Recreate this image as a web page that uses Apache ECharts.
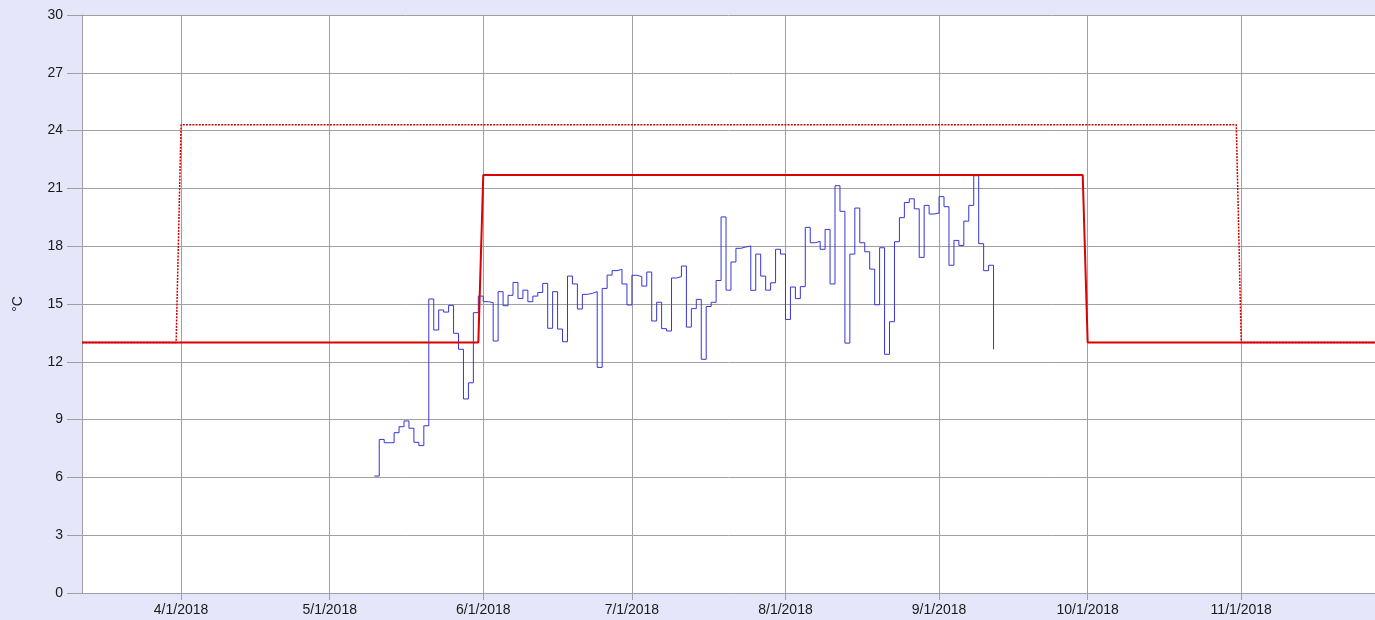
<!DOCTYPE html>
<html>
<head>
<meta charset="utf-8">
<script src="https://cdn.jsdelivr.net/npm/echarts@6/dist/echarts.min.js"></script>
<style>
  html, body { margin: 0; padding: 0; background: #e6e6fa; }
  #chart { width: 1375px; height: 620px; }
</style>
</head>
<body>
<div id="chart"></div>
<script>
// Visible time window of the x axis
const axisStart = '2018-03-12';
const axisEnd = '2018-11-28';

// Daily measured temperature (°C), one value per day starting at measuredStart
const measuredStart = [2018, 4, 10]; // year, month index, day -> May 10, 2018
const measuredTemps = [
  6.07, 7.97, 7.8, 7.8, 8.32, 8.63, 8.93, 8.55, 7.82, 7.65,
  8.68, 15.26, 13.65, 14.69, 14.58, 14.93, 13.48, 12.65, 10.07, 10.91,
  14.55, 15.41, 15.12, 15.07, 13.08, 15.64, 14.91, 15.45, 16.12, 15.29,
  15.72, 15.12, 15.41, 15.6, 16.07, 13.74, 15.64, 13.7, 13.04, 16.45,
  16.04, 14.74, 15.5, 15.55, 15.64, 11.71, 15.81, 16.5, 16.73, 16.8,
  16.04, 14.95, 16.49, 16.42, 15.93, 16.66, 14.12, 15.09, 13.72, 13.6,
  16.35, 16.42, 16.97, 13.8, 14.76, 15.24, 12.13, 14.87, 15.09, 16.22,
  19.52, 15.72, 17.18, 17.89, 17.96, 18.01, 15.71, 17.59, 16.45, 15.72,
  16.1, 17.84, 17.59, 14.2, 15.88, 15.28, 15.9, 18.98, 18.18, 18.25,
  17.84, 18.87, 16.04, 21.14, 19.81, 12.97, 17.59, 19.98, 18.18, 17.71,
  16.81, 14.96, 17.92, 12.39, 14.08, 18.23, 19.48, 20.27, 20.46, 19.94,
  17.42, 20.12, 19.67, 19.72, 20.57, 20.05, 17.01, 18.3, 18.04, 19.3,
  20.12, 21.66, 18.13, 16.73, 17.01, 12.65
];

// Target temperature schedule (solid red)
const targetDates = ['2018-03-12', '2018-05-31', '2018-06-01', '2018-09-30', '2018-10-01', '2018-11-28'];
const targetTemps = [13, 13, 21.7, 21.7, 13, 13];

// Upper limit schedule (dotted red)
const limitDates = ['2018-03-12', '2018-03-31', '2018-04-01', '2018-10-31', '2018-11-01', '2018-11-28'];
const limitTemps = [13, 13, 24.3, 24.3, 13, 13];

const DAY = 24 * 3600 * 1000;
const FONT = 'Liberation Sans, Arial, sans-serif';

const measuredData = measuredTemps.map((v, i) => [
  new Date(measuredStart[0], measuredStart[1], measuredStart[2] + i).getTime(), v
]);
const targetData = targetDates.map((d, i) => [d, targetTemps[i]]);
const limitData = limitDates.map((d, i) => [d, limitTemps[i]]);

const chart = echarts.init(document.getElementById('chart'), null, { renderer: 'canvas' });

chart.setOption({
  animation: false,
  backgroundColor: '#e6e6fa',
  grid: {
    left: 82, right: 0, top: 15, bottom: 27,
    outerBoundsMode: 'none',
    containLabel: false,
    show: true, backgroundColor: '#ffffff', borderWidth: 0
  },
  xAxis: {
    type: 'time',
    min: axisStart,
    max: axisEnd,
    minInterval: 27 * DAY,
    maxInterval: 32 * DAY,
    axisLine: { show: true, lineStyle: { color: '#a0a0a0', width: 1 } },
    axisTick: { show: true, length: 7, lineStyle: { color: '#a0a0a0' } },
    splitLine: { show: true, lineStyle: { color: '#a0a0a0', width: 1 } },
    axisLabel: {
      color: '#1a1a1a', fontSize: 14, fontFamily: FONT, margin: 10,
      showMinLabel: false, showMaxLabel: false,
      formatter: function (val) {
        const d = new Date(val);
        return (d.getMonth() + 1) + '/' + d.getDate() + '/' + d.getFullYear();
      }
    }
  },
  yAxis: {
    type: 'value',
    min: 0, max: 30, interval: 3,
    name: '°C',
    nameLocation: 'middle',
    nameRotate: 90,
    nameGap: 57,
    nameTextStyle: { color: '#1a1a1a', fontSize: 14, fontFamily: FONT },
    axisLine: { show: true, lineStyle: { color: '#a0a0a0', width: 1 } },
    axisTick: { show: true, length: 15, lineStyle: { color: '#a0a0a0' } },
    splitLine: { show: true, lineStyle: { color: '#a0a0a0', width: 1 } },
    axisLabel: { color: '#1a1a1a', fontSize: 14, fontFamily: FONT, margin: 19 }
  },
  series: [
    {
      name: 'Measured',
      type: 'line',
      step: 'end',
      data: measuredData,
      showSymbol: false,
      lineStyle: { color: '#3636d6', width: 1 },
      z: 2
    },
    {
      name: 'Upper limit',
      type: 'line',
      data: limitData,
      showSymbol: false,
      lineStyle: { color: '#d40000', width: 1.5, type: [2, 1.2] },
      z: 3
    },
    {
      name: 'Target',
      type: 'line',
      data: targetData,
      showSymbol: false,
      lineStyle: { color: '#dd0000', width: 2 },
      z: 4
    }
  ]
});
</script>
</body>
</html>
